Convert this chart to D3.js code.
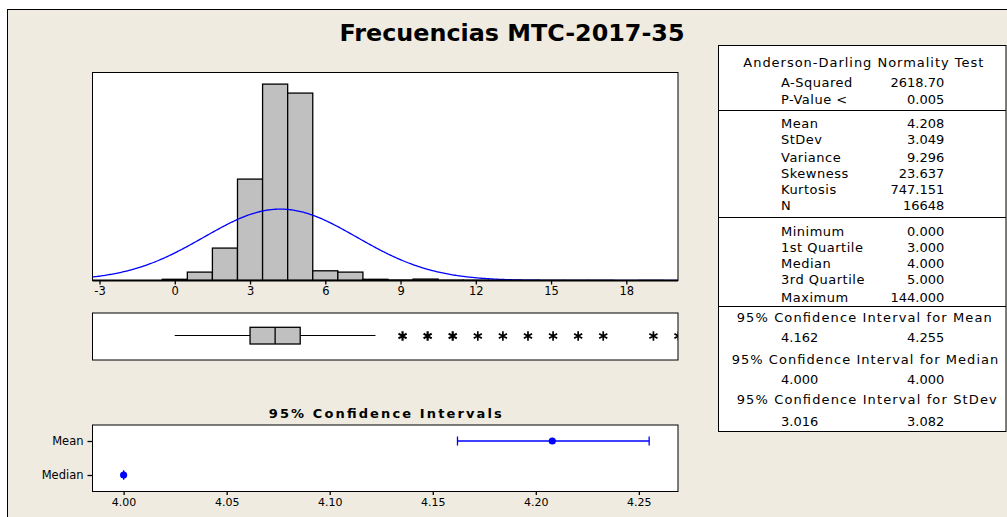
<!DOCTYPE html>
<html>
<head>
<meta charset="utf-8">
<script src="https://cdn.jsdelivr.net/npm/d3@7"></script>
<style>
body { margin: 0; background: #fff; }
text { font-family: "DejaVu Sans", sans-serif; fill: #000; }
</style>
</head>
<body>
<div id="chart"></div>
<script>
const binCenters = [0, 1, 2, 3, 4, 5, 6, 7, 8, 9, 10, 11, 12, 13, 14, 15, 16, 17, 18, 19];
const binCounts  = [37, 256, 989, 3094, 5992, 5718, 296, 256, 37, 12, 43, 8, 6, 4, 3, 3, 2, 2, 0, 1];
const histTicks = [-3, 0, 3, 6, 9, 12, 15, 18];

const boxWhiskers = [0, 8];        // low / high whisker ends
const boxQuartiles = [3, 4, 5];    // Q1, median, Q3
const outliers = [9, 10, 11, 12, 13, 14, 15, 16, 17, 19, 20];

const adLabels = ["A-Squared", "P-Value <"];
const adValues = ["2618.70", "0.005"];
const momentLabels = ["Mean", "StDev", "Variance", "Skewness", "Kurtosis", "N"];
const momentValues = ["4.208", "3.049", "9.296", "23.637", "747.151", "16648"];
const quantLabels = ["Minimum", "1st Quartile", "Median", "3rd Quartile", "Maximum"];
const quantValues = ["0.000", "3.000", "4.000", "5.000", "144.000"];

const ciNames = ["Mean", "Median", "StDev"];
const ciLow  = ["4.162", "4.000", "3.016"];
const ciHigh = ["4.255", "4.000", "3.082"];
const ciCenter = [momentValues[0], quantValues[2]];   // mean, median
const ciTicks = [4.00, 4.05, 4.10, 4.15, 4.20, 4.25];

const W = 1007, H = 517;
const bg = "#efebe1";

const svg = d3.select("#chart").append("svg")
    .attr("width", W).attr("height", H);

svg.append("rect").attr("width", W).attr("height", H).attr("fill", "#fff");
// outer graph frame (runs past the right / bottom edge of the picture)
svg.append("rect")
    .attr("x", 7.5).attr("y", 9.5).attr("width", 1100).attr("height", 600)
    .attr("fill", bg).attr("stroke", "#000");

svg.append("text")
    .attr("x", 512).attr("y", 41)
    .attr("text-anchor", "middle")
    .style("font-size", "22.5px").style("font-weight", "bold")
    .attr("textLength", 345).attr("lengthAdjust", "spacingAndGlyphs")
    .text("Frecuencias MTC-2017-35");

// ---------------- histogram ----------------
const hist = {left: 92.5, right: 678, top: 72.5, bottom: 280.5};
const xHist = d3.scaleLinear().domain([-3.28, 20.06]).range([hist.left, hist.right]);
const yHist = d3.scaleLinear().domain([0, 6346]).range([hist.bottom, hist.top]);

svg.append("defs").append("clipPath").attr("id", "clipHist")
    .append("rect").attr("x", hist.left).attr("y", hist.top)
    .attr("width", hist.right - hist.left).attr("height", hist.bottom - hist.top);
svg.select("defs").append("clipPath").attr("id", "clipBox")
    .append("rect").attr("x", hist.left).attr("y", 313)
    .attr("width", hist.right - hist.left).attr("height", 47);

svg.append("rect")
    .attr("x", hist.left).attr("y", hist.top)
    .attr("width", hist.right - hist.left).attr("height", hist.bottom - hist.top)
    .attr("fill", "#fff").attr("stroke", "#000");

const histG = svg.append("g").attr("clip-path", "url(#clipHist)");
histG.selectAll("rect.bar")
    .data(binCenters.map((c, i) => ({c: c, n: binCounts[i]})))
    .join("rect")
    .attr("class", "bar")
    .attr("x", d => xHist(d.c - 0.5))
    .attr("width", d => xHist(d.c + 0.5) - xHist(d.c - 0.5))
    .attr("y", d => yHist(d.n))
    .attr("height", d => hist.bottom - yHist(d.n))
    .attr("fill", "#c0c0c0")
    .attr("stroke", "#000")
    .attr("stroke-width", 1.3);

// fitted normal curve from the reported mean / stdev / N (bin width 1)
const mu = +momentValues[0], sd = +momentValues[1], nObs = +momentValues[5];
const curveX = d3.range(-3.28, 20.1, 0.05);
histG.append("path")
    .datum(curveX)
    .attr("fill", "none")
    .attr("stroke", "#0000ff")
    .attr("stroke-width", 1.3)
    .attr("d", d3.line()
        .x(v => xHist(v))
        .y(v => yHist(nObs * Math.exp(-0.5 * ((v - mu) / sd) ** 2) / (sd * Math.sqrt(2 * Math.PI)))));

svg.append("line")
    .attr("x1", hist.left).attr("x2", hist.right)
    .attr("y1", hist.bottom).attr("y2", hist.bottom)
    .attr("stroke", "#000").attr("stroke-width", 2);

svg.append("g")
    .attr("transform", `translate(0,${hist.bottom})`)
    .call(d3.axisBottom(xHist).tickValues(histTicks).tickFormat(d => String(d))
        .tickSize(4).tickPadding(2.5).tickSizeOuter(0))
    .call(g => g.select(".domain").remove())
    .call(g => g.selectAll("line").attr("stroke", "#000").attr("stroke-width", 1.3))
    .call(g => g.selectAll("text").style("font-size", "11.5px").attr("font-family", null));

// ---------------- boxplot ----------------
svg.append("rect")
    .attr("x", hist.left).attr("y", 313)
    .attr("width", hist.right - hist.left).attr("height", 47)
    .attr("fill", "#fff").attr("stroke", "#000");

const boxG = svg.append("g").attr("clip-path", "url(#clipBox)");
const boxMid = 335.5;
boxG.append("line")
    .attr("x1", xHist(boxWhiskers[0])).attr("x2", xHist(boxQuartiles[0]))
    .attr("y1", boxMid).attr("y2", boxMid).attr("stroke", "#000");
boxG.append("line")
    .attr("x1", xHist(boxQuartiles[2])).attr("x2", xHist(boxWhiskers[1]))
    .attr("y1", boxMid).attr("y2", boxMid).attr("stroke", "#000");
boxG.append("rect")
    .attr("x", xHist(boxQuartiles[0])).attr("y", 327.3)
    .attr("width", xHist(boxQuartiles[2]) - xHist(boxQuartiles[0])).attr("height", 16.7)
    .attr("fill", "#c0c0c0").attr("stroke", "#000").attr("stroke-width", 1.3);
boxG.append("line")
    .attr("x1", xHist(boxQuartiles[1])).attr("x2", xHist(boxQuartiles[1]))
    .attr("y1", 327.3).attr("y2", 344).attr("stroke", "#000").attr("stroke-width", 1.3);

const starType = d3.symbolAsterisk || d3.symbolCross;
boxG.selectAll("path.star")
    .data(outliers)
    .join("path")
    .attr("class", "star")
    .attr("transform", d => `translate(${xHist(d) + 2},${boxMid + 0.5})`)
    .attr("d", d3.symbol().type(starType).size(62))
    .attr("fill", "none")
    .attr("stroke", "#000")
    .attr("stroke-width", (d, i) => i < 3 ? 2.2 : 1.7);

// ---------------- confidence intervals ----------------
const ci = {left: 92.5, right: 678, top: 425, bottom: 491.5};
const xCI = d3.scaleLinear().domain([3.9849, 4.269]).range([ci.left, ci.right]);
const yCI = d3.scalePoint().domain(ciNames.slice(0, 2)).range([441, 475]);

svg.append("text")
    .attr("x", (ci.left + ci.right) / 2).attr("y", 418.3)
    .attr("text-anchor", "middle")
    .style("font-size", "13px").style("font-weight", "bold")
    .attr("textLength", 233).attr("lengthAdjust", "spacing")
    .text("95% Confidence Intervals");

svg.append("rect")
    .attr("x", ci.left).attr("y", ci.top)
    .attr("width", ci.right - ci.left).attr("height", ci.bottom - ci.top)
    .attr("fill", "#fff").attr("stroke", "#000");

svg.append("g")
    .attr("transform", `translate(${ci.left},0)`)
    .call(d3.axisLeft(yCI).tickSize(5).tickPadding(4).tickSizeOuter(0))
    .call(g => g.select(".domain").remove())
    .call(g => g.selectAll("line").attr("stroke", "#000").attr("stroke-width", 1.3))
    .call(g => g.selectAll("text").style("font-size", "11.5px").attr("font-family", null));

svg.append("g")
    .attr("transform", `translate(0,${ci.bottom})`)
    .call(d3.axisBottom(xCI).tickValues(ciTicks).tickFormat(d3.format(".2f"))
        .tickSize(3.5).tickPadding(2.7).tickSizeOuter(0))
    .call(g => g.select(".domain").remove())
    .call(g => g.selectAll("line").attr("stroke", "#000").attr("stroke-width", 1.3))
    .call(g => g.selectAll("text").style("font-size", "11px").attr("font-family", null));

const ciRows = ciNames.slice(0, 2).map((name, i) => ({
    name: name, lo: +ciLow[i], hi: +ciHigh[i], c: +ciCenter[i]
}));
const ciG = svg.append("g").attr("stroke", "#0000ff").attr("stroke-width", 1.3);
ciRows.forEach(r => {
    const yy = yCI(r.name);
    ciG.append("line").attr("x1", xCI(r.lo)).attr("x2", xCI(r.hi)).attr("y1", yy).attr("y2", yy);
    [r.lo, r.hi].forEach(v => ciG.append("line")
        .attr("x1", xCI(v)).attr("x2", xCI(v)).attr("y1", yy - 4.5).attr("y2", yy + 4.5));
    ciG.append("circle").attr("cx", xCI(r.c)).attr("cy", yy).attr("r", 3.6)
        .attr("fill", "#0000ff").attr("stroke", "none");
});

// ---------------- statistics table ----------------
const tbl = {left: 718.5, top: 45.5, right: 1006, bottom: 431.5};
svg.append("rect")
    .attr("x", tbl.left).attr("y", tbl.top)
    .attr("width", tbl.right - tbl.left).attr("height", tbl.bottom - tbl.top)
    .attr("fill", "#fff").attr("stroke", "#000");
[110, 217, 306].forEach(yy => svg.append("line")
    .attr("x1", tbl.left).attr("x2", tbl.right).attr("y1", yy + 0.5).attr("y2", yy + 0.5)
    .attr("stroke", "#000"));

const tG = svg.append("g").style("font-size", "13px");
const labX = 781, valX = 944.3;

function header(txt, x, y, len) {
    tG.append("text").attr("x", x).attr("y", y).attr("text-anchor", "middle")
        .attr("textLength", len).attr("lengthAdjust", "spacing").text(txt);
}
function rows(labels, values, ys) {
    labels.forEach((l, i) => {
        tG.append("text").attr("x", labX).attr("y", ys[i])
            .style("letter-spacing", "0.5px").text(l);
        tG.append("text").attr("x", valX).attr("y", ys[i]).attr("text-anchor", "end").text(values[i]);
    });
}

header("Anderson-Darling Normality Test", 863.3, 66.8, 240);
rows(adLabels, adValues, [86.8, 103.6]);
rows(momentLabels, momentValues, [127.6, 144.2, 161.5, 177.6, 193.6, 210]);
rows(quantLabels, quantValues, [236, 252, 267.6, 283.6, 302]);

const ciHeadY = [322, 363.6, 404.3], ciValY = [342, 383.6, 426];
const ciHeadLen = [255, 266.6, 260], ciHeadX = [864.2, 865, 866.7];
ciNames.forEach((name, i) => {
    header("95% Confidence Interval for " + name, ciHeadX[i], ciHeadY[i], ciHeadLen[i]);
    tG.append("text").attr("x", labX).attr("y", ciValY[i]).text(ciLow[i]);
    tG.append("text").attr("x", valX).attr("y", ciValY[i]).attr("text-anchor", "end").text(ciHigh[i]);
});
</script>
</body>
</html>
